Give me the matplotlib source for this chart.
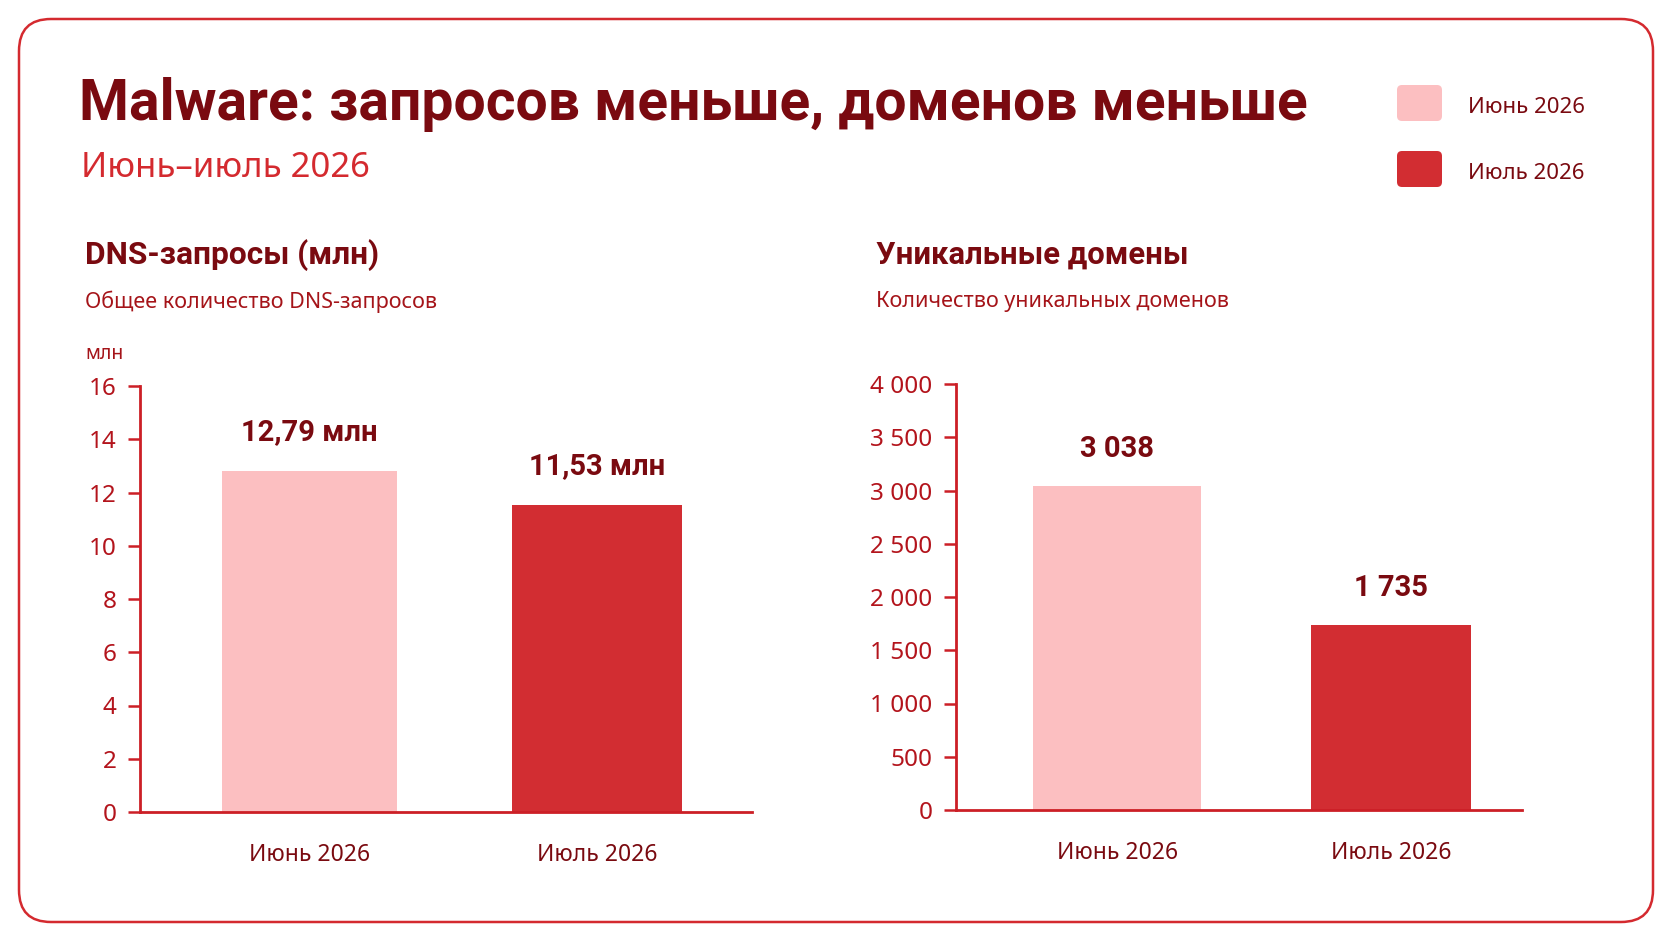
import matplotlib
matplotlib.use("Agg")
import matplotlib.pyplot as plt
from matplotlib.patches import FancyBboxPatch
from matplotlib.ticker import FuncFormatter

plt.rcParams["font.family"] = ["Noto Sans", "DejaVu Sans"]
BOLD = ["Roboto", "DejaVu Sans"]

# data
months = ["Июнь 2026", "Июль 2026"]
dns_requests = [12.79, 11.53]      # млн
unique_domains = [3038, 1735]
dns_ticks = [0, 2, 4, 6, 8, 10, 12, 14, 16]
domain_ticks = [0, 500, 1000, 1500, 2000, 2500, 3000, 3500, 4000]

bar_colors = ["#fcbfc1", "#d22d32"]
dark = "#7a0a10"
red = "#d42a2f"
tick_red = "#b3141c"
sub_red = "#a51419"
axis_red = "#cc1f26"

W, H = 1672, 941
fig = plt.figure(figsize=(W / 100, H / 100), dpi=100)
fig.patch.set_facecolor("white")

# background layer in pixel coords
bg = fig.add_axes([0, 0, 1, 1], zorder=-1)
bg.set_xlim(0, W)
bg.set_ylim(H, 0)
bg.axis("off")

card = FancyBboxPatch((19, 19), W - 38, H - 38,
                      boxstyle="round,pad=0,rounding_size=32",
                      facecolor="white", edgecolor=red, linewidth=1.8)
bg.add_patch(card)

bg.text(79, 104, "Malware: запросов меньше, доменов меньше",
        fontsize=41, fontweight="bold", family=BOLD, color=dark,
        va="center", ha="left")
bg.text(81, 168, "Июнь–июль 2026", fontsize=25, color=red,
        va="center", ha="left")

# legend
for i, (lab, col) in enumerate(zip(months, bar_colors)):
    y = 103 + i * 66
    sq = FancyBboxPatch((1397, y - 18), 45, 36,
                        boxstyle="round,pad=0,rounding_size=5",
                        facecolor=col, edgecolor="none")
    bg.add_patch(sq)
    bg.text(1468, y + 4, lab, fontsize=16, color=dark, va="center", ha="left")

# panel headers
bg.text(85, 255, "DNS-запросы (млн)", fontsize=22.8, fontweight="bold",
        family=BOLD, color=dark, va="center", ha="left")
bg.text(85, 302, "Общее количество DNS-запросов", fontsize=15.5,
        color=sub_red, va="center", ha="left")
bg.text(85, 354, "млн", fontsize=14, color=sub_red, va="center", ha="left")

bg.text(876, 255, "Уникальные домены", fontsize=22.3, fontweight="bold",
        family=BOLD, color=dark, va="center", ha="left")
bg.text(876, 302, "Количество уникальных доменов", fontsize=15.5,
        color=sub_red, va="center", ha="left")


def style_axis(ax, ticks, fmt):
    ax.set_facecolor("none")
    for s in ["top", "right"]:
        ax.spines[s].set_visible(False)
    for s in ["left", "bottom"]:
        ax.spines[s].set_color(axis_red)
        ax.spines[s].set_linewidth(2)
    ax.set_ylim(ticks[0], ticks[-1])
    ax.set_yticks(ticks)
    ax.yaxis.set_major_formatter(FuncFormatter(fmt))
    ax.tick_params(axis="y", colors=axis_red, labelcolor=tick_red,
                   length=9, width=1.8, labelsize=17.5, pad=8)
    ax.tick_params(axis="x", length=0, labelcolor=dark, labelsize=16.5, pad=22)


# left chart
ax1 = fig.add_axes([140 / W, 1 - 812 / H, (752 - 140) / W, (812 - 386) / H])
x = range(len(months))
ax1.bar(x, dns_requests, width=[0.61, 0.59], color=bar_colors, linewidth=0)
ax1.set_xlim(-0.59, 1.54)
ax1.set_xticks(list(x))
ax1.set_xticklabels(months)
style_axis(ax1, dns_ticks, lambda v, p: f"{int(v)}")
for i, v in enumerate(dns_requests):
    ax1.annotate(f"{v:.2f}".replace(".", ",") + " млн", (i, v),
                 xytext=(0, 28), textcoords="offset points",
                 ha="center", va="center", fontsize=21, family=BOLD,
                 fontweight="bold", color=dark)

# right chart
ax2 = fig.add_axes([956 / W, 1 - 810 / H, (1522 - 956) / W, (810 - 384) / H])
ax2.bar(x, unique_domains, width=[0.615, 0.585], color=bar_colors, linewidth=0)
ax2.set_xlim(-0.59, 1.48)
ax2.set_xticks(list(x))
ax2.set_xticklabels(months)
style_axis(ax2, domain_ticks, lambda v, p: f"{int(v):,}".replace(",", " "))
for i, v in enumerate(unique_domains):
    ax2.annotate(f"{v:,}".replace(",", " "), (i, v),
                 xytext=(0, 27), textcoords="offset points",
                 ha="center", va="center", fontsize=21, family=BOLD,
                 fontweight="bold", color=dark)

fig.savefig("out.png", dpi=100, facecolor="white")
